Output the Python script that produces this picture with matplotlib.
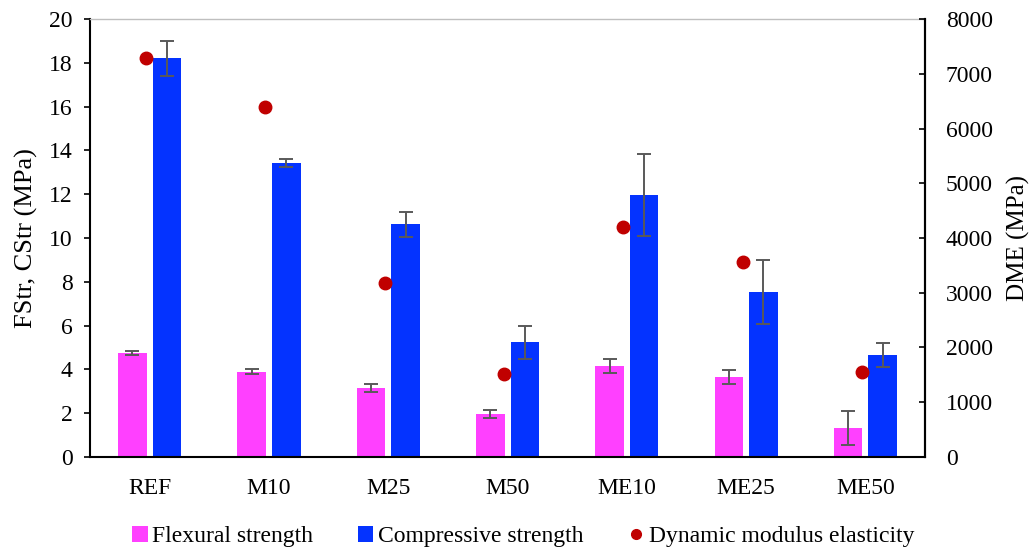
import numpy as np
import matplotlib.pyplot as plt
from matplotlib.lines import Line2D
from matplotlib.patches import Patch

categories = ["REF", "M10", "M25", "M50", "ME10", "ME25", "ME50"]
flexural = [4.75, 3.90, 3.16, 1.95, 4.16, 3.65, 1.34]
flexural_err = [0.07, 0.10, 0.18, 0.19, 0.31, 0.31, 0.78]
compressive = [18.2, 13.42, 10.62, 5.24, 11.96, 7.55, 4.64]
compressive_err = [0.78, 0.18, 0.57, 0.75, 1.89, 1.46, 0.55]
dme = [7280, 6400, 3180, 1516, 4205, 3566, 1558]

plt.rcParams['font.family'] = ['Liberation Serif', 'DejaVu Serif']
plt.rcParams['font.size'] = 17

pink = '#FF40FF'
blue = '#0433FF'
red = '#C00000'
errc = '#595959'

x = np.arange(len(categories))
w = 0.24

fig = plt.figure(figsize=(10.36, 5.54), dpi=100)
ax = fig.add_axes([0.0869, 0.1751, 0.806, 0.7906])
ekw = dict(ecolor=errc, elinewidth=1.4, capsize=4.7, capthick=1.4)
ax.bar(x - 0.145, flexural, w, color=pink, yerr=flexural_err, error_kw=ekw, zorder=2)
ax.bar(x + 0.145, compressive, w, color=blue, yerr=compressive_err, error_kw=ekw, zorder=2)
ax.set_xlim(-0.5, len(categories) - 0.5)
ax.set_ylim(0, 20)
ax.set_yticks(np.arange(0, 21, 2))
ax.set_xticks(x)
ax.set_xticklabels(categories)
ax.tick_params(axis='x', length=0, pad=15)
ax.tick_params(axis='y', direction='out', length=4.5, width=1.2, pad=8)
ax.set_ylabel("FStr, CStr (MPa)", fontsize=19, labelpad=8)
for s in ['left', 'bottom', 'right']:
    ax.spines[s].set_linewidth(1.5)
    ax.spines[s].set_color('black')
ax.spines['top'].set_color('#BFBFBF')
ax.spines['top'].set_linewidth(1.0)

ax2 = ax.twinx()
ax2.plot(x - 0.03, dme, 'o', color=red, markersize=9, zorder=3)
ax2.set_ylim(0, 8000)
ax2.set_yticks(np.arange(0, 8001, 1000))
ax2.tick_params(axis='y', direction='in', length=4.5, width=1.2, pad=15)
ax2.set_ylabel("DME (MPa)", fontsize=18, labelpad=10)
ax2.spines['right'].set_linewidth(1.5)
ax2.spines['top'].set_visible(False)
ax2.spines['left'].set_visible(False)
ax2.spines['bottom'].set_visible(False)

handles = [
    Patch(facecolor=pink, label='Flexural strength'),
    Patch(facecolor=blue, label='Compressive strength'),
    Line2D([], [], marker='o', linestyle='none', color=red, markersize=7,
           label='Dynamic modulus elasticity'),
]
fig.legend(handles=handles, loc='center', bbox_to_anchor=(0.505, 0.031), ncol=3,
           frameon=False, handlelength=0.65, handleheight=0.65, handletextpad=0.2,
           columnspacing=1.9, fontsize=17)

fig.savefig("out.png", dpi=100)
